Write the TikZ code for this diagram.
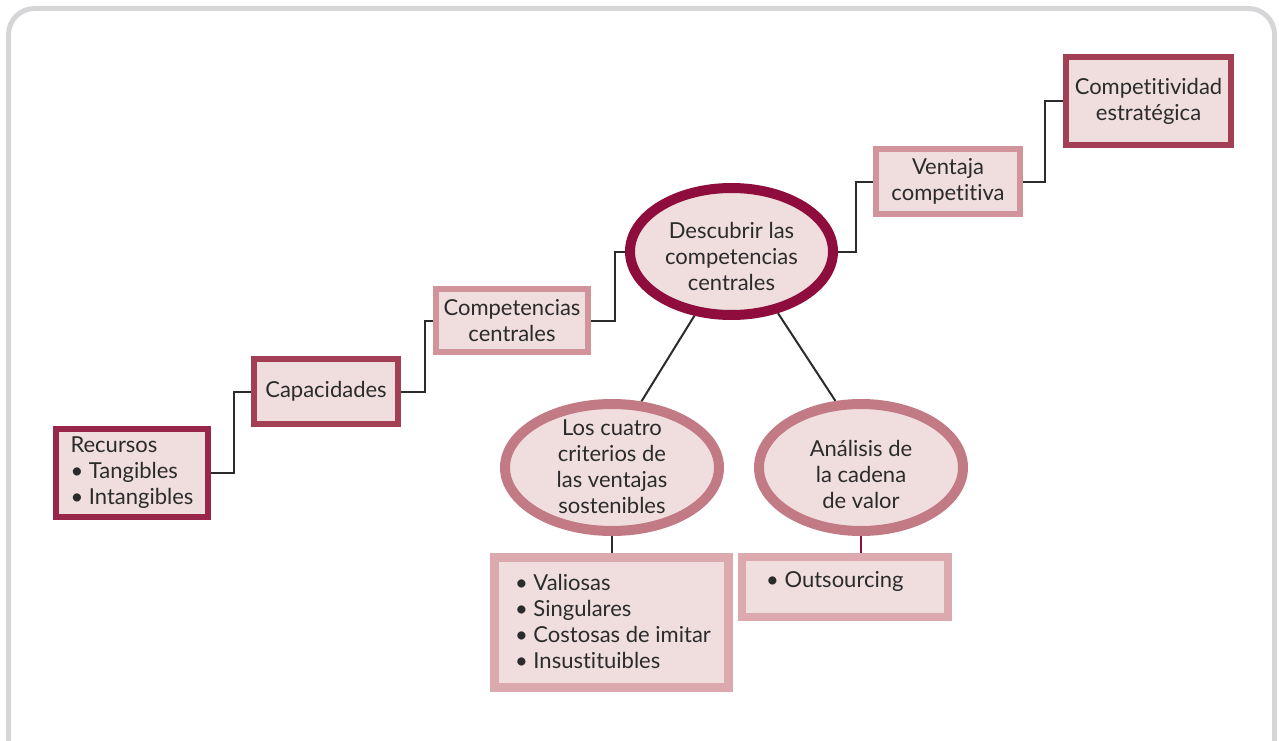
\documentclass[tikz,border=0pt]{standalone}
\usepackage{fontspec}
\setmainfont{Lato}[Ligatures={NoCommon}]
\usetikzlibrary{shapes.geometric,backgrounds}

\definecolor{boxfill}{HTML}{F0DEDF}
\definecolor{wine}{HTML}{97264A}
\definecolor{rose}{HTML}{A33F55}
\definecolor{blush}{HTML}{D0949A}
\definecolor{crimson}{HTML}{8E0D3C}
\definecolor{mauve}{HTML}{C27A85}
\definecolor{pale}{HTML}{DBA9AE}
\definecolor{ink}{HTML}{2B2B2B}
\definecolor{frame}{HTML}{D6D6D8}

\tikzset{
  txt/.style={text=ink, font=\fontsize{22}{26}\selectfont, align=center, inner sep=0pt},
  stepbox/.style={txt, draw, fill=boxfill, line width=6pt, rectangle},
  oval/.style={draw, fill=boxfill, ellipse, line width=10pt, inner sep=0pt},
  listbox/.style={draw=pale, fill=boxfill, rectangle, inner sep=0pt},
  conn/.style={draw=ink, line width=2pt},
}

\begin{document}
\begin{tikzpicture}[x=1pt,y=-1pt]
\useasboundingbox (0,0) rectangle (1279,741);

% outer rounded frame
\draw[frame, line width=5pt, rounded corners=26pt] (8.5,8.5) rectangle (1274.5,770);

% staircase of boxes
\node[stepbox, draw=wine, minimum width=152pt, minimum height=88pt, align=left]
  (rec) at (132,473) {Recursos\\• Tangibles\\• Intangibles};
\node[stepbox, draw=rose, minimum width=144pt, minimum height=65pt]
  (cap) at (326,391.5) {Capacidades};
\node[stepbox, draw=blush, minimum width=152pt, minimum height=63pt]
  (comp) at (512,320.5) {Competencias\\centrales};
\node[oval, draw=crimson, minimum width=203pt, minimum height=127pt]
  (desc) at (731.5,251.5) {};
\node[txt] (desctxt) at (731.5,256) {Descubrir las\\competencias\\centrales};
\node[stepbox, draw=blush, minimum width=144pt, minimum height=65pt]
  (ven) at (948,181.5) {Ventaja\\competitiva};
\node[stepbox, draw=rose, minimum width=165pt, minimum height=88pt]
  (cmpt) at (1148.5,101) {Competitividad\\estratégica};

% lower branch
\node[oval, draw=mauve, minimum width=214pt, minimum height=127pt]
  (cuatro) at (612,467.5) {};
\node[txt] (cuatrotxt) at (612,467) {Los cuatro\\criterios de\\las ventajas\\sostenibles};
\node[oval, draw=mauve, minimum width=204pt, minimum height=127pt]
  (anal) at (861,467.5) {};
\node[txt] (analtxt) at (861,474) {Análisis de\\la cadena\\de valor};

\node[listbox, line width=9pt, minimum width=234pt, minimum height=130pt]
  (val) at (611.5,622.5) {};
\node[txt, align=left] (valtxt) at (613,621)
  {• Valiosas\\• Singulares\\• Costosas de imitar\\• Insustituibles};
\node[listbox, line width=8pt, minimum width=206pt, minimum height=60pt]
  (outs) at (845,587) {};
\node[txt, anchor=west] (outstxt) at (766,581) {• Outsourcing};

% connectors
\begin{scope}[on background layer]
  \draw[conn] (rec.east) -- ++(23,0) |- (cap.west);
  \draw[conn] (cap.east) -- ++(24,0) |- (comp.west);
  \draw[conn] (comp.east) -- ++(24,0) |- (desc.west);
  \draw[conn] (desc.east) -- ++(18,0) |- (ven.west);
  \draw[conn] (ven.east) -- ++(22,0) |- (cmpt.west);
  \draw[conn] (desc.240) -- (cuatro.66);
  \draw[conn] (desc.307) -- (anal.111);
  \draw[conn] (cuatro.south) -- (cuatro.south |- val.north);
  \draw[conn, draw=crimson] (anal.south) -- (anal.south |- outs.north);
\end{scope}
\end{tikzpicture}
\end{document}
